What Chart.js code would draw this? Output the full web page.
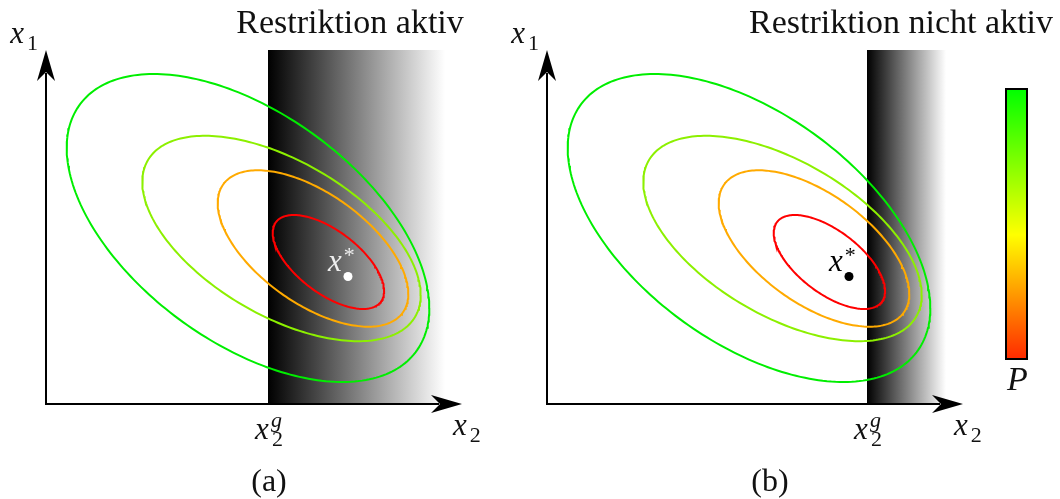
<!DOCTYPE html>
<html>
<head>
<meta charset="utf-8">
<script src="https://cdn.jsdelivr.net/npm/chart.js@4"></script>
<style>
  html, body { margin: 0; padding: 0; background: #fff; }
  #wrap { position: relative; width: 1060px; height: 499px; overflow: hidden; }
  #wrap canvas { position: absolute; top: 0; }
</style>
</head>
<body>
<div id="wrap">
  <canvas id="chartA" width="501" height="499" style="left:0"></canvas>
  <canvas id="chartB" width="559" height="499" style="left:501px"></canvas>
</div>
<script>
// Höhenlinien von P (Ellipsen: Mittelpunkt, Halbbreite, Halbhöhe, Neigung)
const contourColors = ['#00ee00', '#8cf000', '#ffaa00', '#ff0000'];
const contourCx = [202, 235.5, 267, 282.4];
const contourCy = [176, 165.5, 155.5, 142];
const contourW = [181.3, 139.2, 95.3, 55.7];
const contourH = [154, 102.7, 78.2, 47];
const contourSkew = [-0.52, -0.55, -0.58, -0.62];

// Optimum x*
const optimumX = [302];
const optimumY = [127.5];

// Restriktion x2 >= x2^g (Grenze je Teilbild) und Achsenlängen
const boundX2g = [222, 320];
const boundRight = 399;
const axisTipX = 416;
const axisTipY = 354;

const panelTitles = ['Restriktion aktiv', 'Restriktion nicht aktiv'];
const panelTags = ['(a)', '(b)'];

const SERIF = '"Liberation Serif", "DejaVu Serif", serif';

// Ellipse als Punktliste aus ihren Parametern
function contourPoints(i) {
  const pts = [];
  const phi = Math.acos(contourSkew[i]);
  for (let k = 0; k <= 240; k++) {
    const t = k / 240 * 2 * Math.PI;
    pts.push({
      x: contourCx[i] + contourW[i] * Math.cos(t),
      y: contourCy[i] + contourH[i] * Math.cos(t - phi)
    });
  }
  return pts;
}

// Pfeil im Stil "stealth"
function drawArrow(ctx, x0, y0, x1, y1) {
  const len = Math.hypot(x1 - x0, y1 - y0);
  const ux = (x1 - x0) / len, uy = (y1 - y0) / len;
  const nx = -uy, ny = ux;
  ctx.beginPath();
  ctx.moveTo(x0, y0);
  ctx.lineTo(x1 - 24 * ux, y1 - 24 * uy);
  ctx.stroke();
  ctx.beginPath();
  ctx.moveTo(x1, y1);
  ctx.lineTo(x1 - 31 * ux + 9 * nx, y1 - 31 * uy + 9 * ny);
  ctx.lineTo(x1 - 22 * ux, y1 - 22 * uy);
  ctx.lineTo(x1 - 31 * ux - 9 * nx, y1 - 31 * uy - 9 * ny);
  ctx.closePath();
  ctx.fill();
}

// Formelzeichen: Basis kursiv, dazu Index und/oder Exponent
function mathLabel(ctx, x, y, base, sub, sup, size, color, align) {
  const small = Math.round(size * 0.7);
  ctx.font = 'italic ' + size + 'px ' + SERIF;
  const bw = ctx.measureText(base).width;
  ctx.font = small + 'px ' + SERIF;
  const subw = sub ? ctx.measureText(sub).width : 0;
  ctx.font = 'italic ' + small + 'px ' + SERIF;
  const supw = sup ? ctx.measureText(sup).width : 0;
  const total = bw + 3 + Math.max(subw, supw);
  let left = x;
  if (align === 'center') left = x - total / 2;
  if (align === 'right') left = x - total;
  ctx.fillStyle = color;
  ctx.textAlign = 'left';
  ctx.textBaseline = 'alphabetic';
  ctx.font = 'italic ' + size + 'px ' + SERIF;
  ctx.fillText(base, left, y);
  if (sub) {
    ctx.font = small + 'px ' + SERIF;
    ctx.fillText(sub, left + bw + 3, y + size * 0.22);
  }
  if (sup) {
    ctx.font = (sup === '*' ? '' : 'italic ') + small + 'px ' + SERIF;
    ctx.fillText(sup, left + bw + 2, y - size * (sup === '*' ? 0.28 : 0.4));
  }
}

const panels = [
  { id: 'chartA', width: 501, bound: boundX2g[0], dot: '#ffffff', starColor: '#eeeeee', titleX: 350, colorbar: false },
  { id: 'chartB', width: 559, bound: boundX2g[1], dot: '#000000', starColor: '#000000', titleX: 400, colorbar: true }
];

panels.forEach((p, idx) => {
  const bgPlugin = {
    id: 'restriction',
    beforeDatasetsDraw(chart) {
      const ctx = chart.ctx;
      const xs = chart.scales.x, ys = chart.scales.y;
      const x0 = xs.getPixelForValue(p.bound), x1 = xs.getPixelForValue(boundRight);
      const yTop = ys.getPixelForValue(axisTipY), yBot = ys.getPixelForValue(0);
      ctx.save();
      const grad = ctx.createLinearGradient(x0, 0, x1, 0);
      grad.addColorStop(0, '#000000');
      grad.addColorStop(1, '#ffffff');
      ctx.fillStyle = grad;
      ctx.fillRect(x0, yTop, x1 - x0, yBot - yTop);

      // Achsen
      const ox = xs.getPixelForValue(0), oy = ys.getPixelForValue(0);
      ctx.strokeStyle = '#000';
      ctx.fillStyle = '#000';
      ctx.lineWidth = 2;
      ctx.lineCap = 'square';
      drawArrow(ctx, ox, oy, xs.getPixelForValue(axisTipX), oy);
      drawArrow(ctx, ox, oy, ox, ys.getPixelForValue(axisTipY));
      ctx.restore();
    },
    afterDatasetsDraw(chart) {
      const ctx = chart.ctx;
      const xs = chart.scales.x, ys = chart.scales.y;
      const ox = xs.getPixelForValue(0), oy = ys.getPixelForValue(0);
      ctx.save();
      // Titel
      ctx.fillStyle = '#111';
      ctx.font = '34px ' + SERIF;
      ctx.textAlign = 'center';
      ctx.textBaseline = 'alphabetic';
      ctx.fillText(panelTitles[idx], p.titleX, 33);
      // Teilbild
      ctx.font = '32px ' + SERIF;
      ctx.fillText(panelTags[idx], xs.getPixelForValue(boundX2g[0]) + 1, oy + 87);

      // Achsenbeschriftung
      mathLabel(ctx, ox - 8, ys.getPixelForValue(axisTipY) - 7, 'x', '1', null, 31, '#111', 'right');
      mathLabel(ctx, xs.getPixelForValue(axisTipX) - 9, oy + 31, 'x', '2', null, 31, '#111', 'left');
      mathLabel(ctx, xs.getPixelForValue(p.bound) + 1, oy + 35, 'x', '2', 'g', 31, '#111', 'center');
      mathLabel(ctx, xs.getPixelForValue(optimumX[0]) - 20, ys.getPixelForValue(optimumY[0]) - 6, 'x', null, '*', 31, p.starColor, 'left');

      // Farbskala P
      if (p.colorbar) {
        const cx0 = 505, cy0 = 89, cw = 21, ch = 270;
        const cg = ctx.createLinearGradient(0, cy0, 0, cy0 + ch);
        cg.addColorStop(0, '#00ff00');
        cg.addColorStop(0.54, '#ffff00');
        cg.addColorStop(1, '#ff2a00');
        ctx.fillStyle = cg;
        ctx.fillRect(cx0, cy0, cw, ch);
        ctx.strokeStyle = '#000';
        ctx.lineWidth = 2;
        ctx.strokeRect(cx0, cy0, cw, ch);
        ctx.fillStyle = '#111';
        ctx.font = 'italic 34px ' + SERIF;
        ctx.textAlign = 'center';
        ctx.fillText('P', cx0 + cw / 2 + 1, 390);
      }
      ctx.restore();
    }
  };

  const datasets = contourColors.map((c, i) => ({
    data: contourPoints(i),
    showLine: true,
    borderColor: c,
    borderWidth: 2,
    pointRadius: 0,
    tension: 0,
    fill: false
  }));
  datasets.push({
    data: optimumX.map((x, i) => ({ x: x, y: optimumY[i] })),
    pointRadius: 4.5,
    pointBackgroundColor: p.dot,
    pointBorderWidth: 0,
    showLine: false
  });

  new Chart(document.getElementById(p.id), {
    type: 'scatter',
    data: { datasets: datasets },
    options: {
      responsive: false,
      maintainAspectRatio: false,
      devicePixelRatio: 1,
      animation: false,
      layout: { padding: 0, autoPadding: false },
      plugins: { legend: { display: false }, tooltip: { enabled: false } },
      scales: {
        x: { type: 'linear', min: -46, max: p.width - 46, display: false },
        y: { type: 'linear', min: -95, max: 404, display: false }
      }
    },
    plugins: [bgPlugin]
  });
});
</script>
</body>
</html>
